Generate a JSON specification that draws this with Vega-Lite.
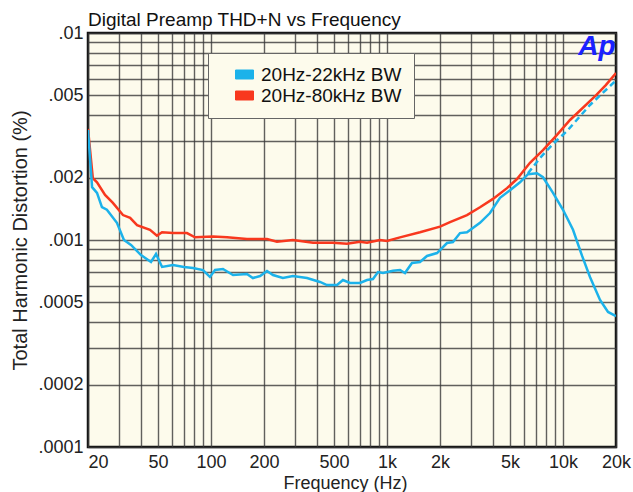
{
  "$schema": "https://vega.github.io/schema/vega-lite/v6.json",
  "width": 528,
  "height": 414,
  "autosize": "none",
  "padding": {"left": 88, "top": 33, "right": 17, "bottom": 45},
  "background": "white",
  "title": {"text": "Digital Preamp THD+N vs Frequency", "anchor": "start", "frame": "group", "fontSize": 19, "fontWeight": "normal", "font": "Liberation Sans", "color": "#111", "baseline": "alphabetic", "offset": 6, "dy": 27},
  "data": {"values": [
    {"s": "20Hz-80kHz BW", "f": 20, "v": 0.00344},
    {"s": "20Hz-80kHz BW", "f": 21.3, "v": 0.00199},
    {"s": "20Hz-80kHz BW", "f": 22.5, "v": 0.0019},
    {"s": "20Hz-80kHz BW", "f": 25.0, "v": 0.00165},
    {"s": "20Hz-80kHz BW", "f": 27.7, "v": 0.00151},
    {"s": "20Hz-80kHz BW", "f": 31.6, "v": 0.00132},
    {"s": "20Hz-80kHz BW", "f": 34.7, "v": 0.00128},
    {"s": "20Hz-80kHz BW", "f": 38.0, "v": 0.00118},
    {"s": "20Hz-80kHz BW", "f": 45.0, "v": 0.00112},
    {"s": "20Hz-80kHz BW", "f": 49.3, "v": 0.00105},
    {"s": "20Hz-80kHz BW", "f": 52.7, "v": 0.00109},
    {"s": "20Hz-80kHz BW", "f": 60.8, "v": 0.00108},
    {"s": "20Hz-80kHz BW", "f": 73.0, "v": 0.00108},
    {"s": "20Hz-80kHz BW", "f": 81.1, "v": 0.00103},
    {"s": "20Hz-80kHz BW", "f": 102.6, "v": 0.00104},
    {"s": "20Hz-80kHz BW", "f": 123.3, "v": 0.00103},
    {"s": "20Hz-80kHz BW", "f": 160, "v": 0.00101},
    {"s": "20Hz-80kHz BW", "f": 208, "v": 0.00101},
    {"s": "20Hz-80kHz BW", "f": 237, "v": 0.00098},
    {"s": "20Hz-80kHz BW", "f": 292, "v": 0.001},
    {"s": "20Hz-80kHz BW", "f": 380, "v": 0.00097},
    {"s": "20Hz-80kHz BW", "f": 493, "v": 0.00097},
    {"s": "20Hz-80kHz BW", "f": 592, "v": 0.00096},
    {"s": "20Hz-80kHz BW", "f": 702, "v": 0.00098},
    {"s": "20Hz-80kHz BW", "f": 770, "v": 0.00097},
    {"s": "20Hz-80kHz BW", "f": 912, "v": 0.001},
    {"s": "20Hz-80kHz BW", "f": 1000, "v": 0.00099},
    {"s": "20Hz-80kHz BW", "f": 1185, "v": 0.00103},
    {"s": "20Hz-80kHz BW", "f": 1539, "v": 0.00109},
    {"s": "20Hz-80kHz BW", "f": 2000, "v": 0.00116},
    {"s": "20Hz-80kHz BW", "f": 2280, "v": 0.00122},
    {"s": "20Hz-80kHz BW", "f": 2847, "v": 0.00132},
    {"s": "20Hz-80kHz BW", "f": 3375, "v": 0.00144},
    {"s": "20Hz-80kHz BW", "f": 4000, "v": 0.00158},
    {"s": "20Hz-80kHz BW", "f": 4806, "v": 0.00178},
    {"s": "20Hz-80kHz BW", "f": 5475, "v": 0.00197},
    {"s": "20Hz-80kHz BW", "f": 6490, "v": 0.00236},
    {"s": "20Hz-80kHz BW", "f": 7695, "v": 0.00272},
    {"s": "20Hz-80kHz BW", "f": 9240, "v": 0.00322},
    {"s": "20Hz-80kHz BW", "f": 10960, "v": 0.0038},
    {"s": "20Hz-80kHz BW", "f": 15380, "v": 0.005},
    {"s": "20Hz-80kHz BW", "f": 17500, "v": 0.0056},
    {"s": "20Hz-80kHz BW", "f": 20000, "v": 0.0064},
    {"s": "20Hz-22kHz BW", "f": 20, "v": 0.0034},
    {"s": "20Hz-22kHz BW", "f": 21.1, "v": 0.0018},
    {"s": "20Hz-22kHz BW", "f": 22.5, "v": 0.00169},
    {"s": "20Hz-22kHz BW", "f": 24.0, "v": 0.00144},
    {"s": "20Hz-22kHz BW", "f": 25.6, "v": 0.0014},
    {"s": "20Hz-22kHz BW", "f": 29.2, "v": 0.00121},
    {"s": "20Hz-22kHz BW", "f": 32.0, "v": 0.001},
    {"s": "20Hz-22kHz BW", "f": 35.1, "v": 0.000946},
    {"s": "20Hz-22kHz BW", "f": 40.0, "v": 0.000846},
    {"s": "20Hz-22kHz BW", "f": 45.6, "v": 0.000783},
    {"s": "20Hz-22kHz BW", "f": 48.7, "v": 0.000856},
    {"s": "20Hz-22kHz BW", "f": 52.7, "v": 0.000741},
    {"s": "20Hz-22kHz BW", "f": 60.8, "v": 0.000757},
    {"s": "20Hz-22kHz BW", "f": 70.2, "v": 0.000741},
    {"s": "20Hz-22kHz BW", "f": 79.0, "v": 0.000732},
    {"s": "20Hz-22kHz BW", "f": 90.0, "v": 0.000716},
    {"s": "20Hz-22kHz BW", "f": 98.6, "v": 0.000663},
    {"s": "20Hz-22kHz BW", "f": 105.4, "v": 0.000716},
    {"s": "20Hz-22kHz BW", "f": 116.9, "v": 0.000724},
    {"s": "20Hz-22kHz BW", "f": 133.4, "v": 0.000677},
    {"s": "20Hz-22kHz BW", "f": 160, "v": 0.000685},
    {"s": "20Hz-22kHz BW", "f": 173, "v": 0.000655},
    {"s": "20Hz-22kHz BW", "f": 190, "v": 0.00067},
    {"s": "20Hz-22kHz BW", "f": 208, "v": 0.000708},
    {"s": "20Hz-22kHz BW", "f": 225, "v": 0.000677},
    {"s": "20Hz-22kHz BW", "f": 256, "v": 0.000655},
    {"s": "20Hz-22kHz BW", "f": 292, "v": 0.00067},
    {"s": "20Hz-22kHz BW", "f": 351, "v": 0.000655},
    {"s": "20Hz-22kHz BW", "f": 416, "v": 0.000627},
    {"s": "20Hz-22kHz BW", "f": 456, "v": 0.000606},
    {"s": "20Hz-22kHz BW", "f": 520, "v": 0.000606},
    {"s": "20Hz-22kHz BW", "f": 562, "v": 0.000641},
    {"s": "20Hz-22kHz BW", "f": 616, "v": 0.00062},
    {"s": "20Hz-22kHz BW", "f": 702, "v": 0.00062},
    {"s": "20Hz-22kHz BW", "f": 770, "v": 0.000641},
    {"s": "20Hz-22kHz BW", "f": 832, "v": 0.000648},
    {"s": "20Hz-22kHz BW", "f": 889, "v": 0.0007},
    {"s": "20Hz-22kHz BW", "f": 949, "v": 0.000693},
    {"s": "20Hz-22kHz BW", "f": 1081, "v": 0.00071},
    {"s": "20Hz-22kHz BW", "f": 1185, "v": 0.000716},
    {"s": "20Hz-22kHz BW", "f": 1265, "v": 0.000693},
    {"s": "20Hz-22kHz BW", "f": 1386, "v": 0.000774},
    {"s": "20Hz-22kHz BW", "f": 1539, "v": 0.000783},
    {"s": "20Hz-22kHz BW", "f": 1687, "v": 0.000837},
    {"s": "20Hz-22kHz BW", "f": 1923, "v": 0.000865},
    {"s": "20Hz-22kHz BW", "f": 2193, "v": 0.000967},
    {"s": "20Hz-22kHz BW", "f": 2370, "v": 0.000978},
    {"s": "20Hz-22kHz BW", "f": 2599, "v": 0.00108},
    {"s": "20Hz-22kHz BW", "f": 2847, "v": 0.00109},
    {"s": "20Hz-22kHz BW", "f": 3375, "v": 0.00121},
    {"s": "20Hz-22kHz BW", "f": 3846, "v": 0.00135},
    {"s": "20Hz-22kHz BW", "f": 4385, "v": 0.0016},
    {"s": "20Hz-22kHz BW", "f": 4998, "v": 0.00174},
    {"s": "20Hz-22kHz BW", "f": 5696, "v": 0.0019},
    {"s": "20Hz-22kHz BW", "f": 6325, "v": 0.00208},
    {"s": "20Hz-22kHz BW", "f": 7115, "v": 0.0021},
    {"s": "20Hz-22kHz BW", "f": 7695, "v": 0.00201},
    {"s": "20Hz-22kHz BW", "f": 8771, "v": 0.00169},
    {"s": "20Hz-22kHz BW", "f": 9999, "v": 0.0014},
    {"s": "20Hz-22kHz BW", "f": 11396, "v": 0.00112},
    {"s": "20Hz-22kHz BW", "f": 12820, "v": 0.00084},
    {"s": "20Hz-22kHz BW", "f": 14230, "v": 0.000663},
    {"s": "20Hz-22kHz BW", "f": 16230, "v": 0.000513},
    {"s": "20Hz-22kHz BW", "f": 18020, "v": 0.000449},
    {"s": "20Hz-22kHz BW", "f": 20000, "v": 0.000429},
    {"s": "dash", "f": 6325, "v": 0.0021},
    {"s": "dash", "f": 7400, "v": 0.00249},
    {"s": "dash", "f": 8771, "v": 0.00291},
    {"s": "dash", "f": 10538, "v": 0.00336},
    {"s": "dash", "f": 14230, "v": 0.00449},
    {"s": "dash", "f": 20000, "v": 0.0059}
  ]},
  "layer": [
    {
      "transform": [{"filter": "datum.s != 'dash'"}],
      "mark": {"type": "line", "strokeWidth": 2.5, "clip": true},
      "encoding": {
        "x": {"field": "f", "type": "quantitative",
          "scale": {"type": "log", "domain": [20, 20000], "nice": false},
          "axis": {"title": "Frequency (Hz)", "grid": true,
            "values": [20,30,40,50,60,70,80,90,100,200,300,400,500,600,700,800,900,1000,2000,3000,4000,5000,6000,7000,8000,9000,10000,20000],
            "labelExpr": "indexof([20,50,100,200,500,1000,2000,5000,10000,20000], datum.value) >= 0 ? (datum.value >= 1000 ? (datum.value/1000) + 'k' : '' + datum.value) : ''",
            "labelAlign": {"condition": {"test": "datum.value == 20", "value": "left"}, "value": "center"},
            "labelOverlap": false, "labelBound": false, "labelPadding": 6,
            "titleX": 257, "titleY": 41, "titleBaseline": "alphabetic", "titleAlign": "center"}},
        "y": {"field": "v", "type": "quantitative",
          "scale": {"type": "log", "domain": [0.0001, 0.01], "nice": false},
          "axis": {"title": "Total Harmonic Distortion (%)", "grid": true,
            "values": [0.0001,0.0002,0.0003,0.0004,0.0005,0.0006,0.0007,0.0008,0.0009,0.001,0.002,0.003,0.004,0.005,0.006,0.007,0.008,0.009,0.01],
            "labelExpr": "indexof([0.01,0.005,0.002,0.001,0.0005,0.0002,0.0001], datum.value) >= 0 ? slice(toString(datum.value), 1) : ''",
            "labelOverlap": false, "labelBound": false, "labelPadding": 5,
            "titleFontSize": 20,
            "titleX": -68, "titleY": 207, "titleAngle": 270, "titleAlign": "center", "titleBaseline": "middle"}},
        "color": {"field": "s", "type": "nominal",
          "scale": {"domain": ["20Hz-22kHz BW", "20Hz-80kHz BW"], "range": ["#1cb2ea", "#f8381e"]},
          "legend": {"title": "\u00a0\u00a0\u00a0\u00a0", "titleOrient": "right", "titleFontSize": 19, "titlePadding": 0,
            "orient": "none", "legendX": 120, "legendY": 20,
            "fillColor": "#FDFBEC", "strokeColor": "#666", "padding": 12, "symbolOffset": 15,
            "symbolType": "M-1,-0.5H1V0.5H-1Z", "symbolSize": 324, "symbolStrokeWidth": 1,
            "labelFontSize": 19, "labelFont": "Liberation Sans", "labelColor": "#111", "labelOffset": 7, "rowPadding": 1,
            "encode": {"symbols": {"update": {"fill": {"scale": "color", "field": "value"}, "stroke": {"value": "#222"}, "strokeWidth": {"value": 1}, "opacity": {"value": 1}}}}}}
      }
    },
    {
      "transform": [{"filter": "datum.s == 'dash'"}],
      "mark": {"type": "line", "strokeWidth": 2.5, "color": "#1cb2ea", "strokeDash": [6, 4], "clip": true},
      "encoding": {
        "x": {"field": "f", "type": "quantitative"},
        "y": {"field": "v", "type": "quantitative"}
      }
    },
    {
      "data": {"values": [{"label": "Ap", "f": 15600, "v": 0.00856}]},
      "mark": {"type": "text", "font": "Liberation Sans", "fontSize": 28, "fontWeight": "bold", "fontStyle": "italic", "color": "#1a22ff", "align": "center", "baseline": "middle"},
      "encoding": {
        "x": {"field": "f", "type": "quantitative"},
        "y": {"field": "v", "type": "quantitative"},
        "text": {"field": "label"}
      }
    }
  ],
  "config": {
    "font": "Liberation Sans",
    "view": {"fill": "#FDFBEC", "stroke": "#111", "strokeWidth": 2.5},
    "axis": {"domain": false, "ticks": false, "gridColor": "#3a3a3a", "gridWidth": 1.4, "gridOpacity": 0.8,
      "labelFont": "Liberation Sans", "labelFontSize": 18, "labelColor": "#222",
      "titleFont": "Liberation Sans", "titleFontSize": 18, "titleFontWeight": "normal", "titleColor": "#222"}
  }
}
